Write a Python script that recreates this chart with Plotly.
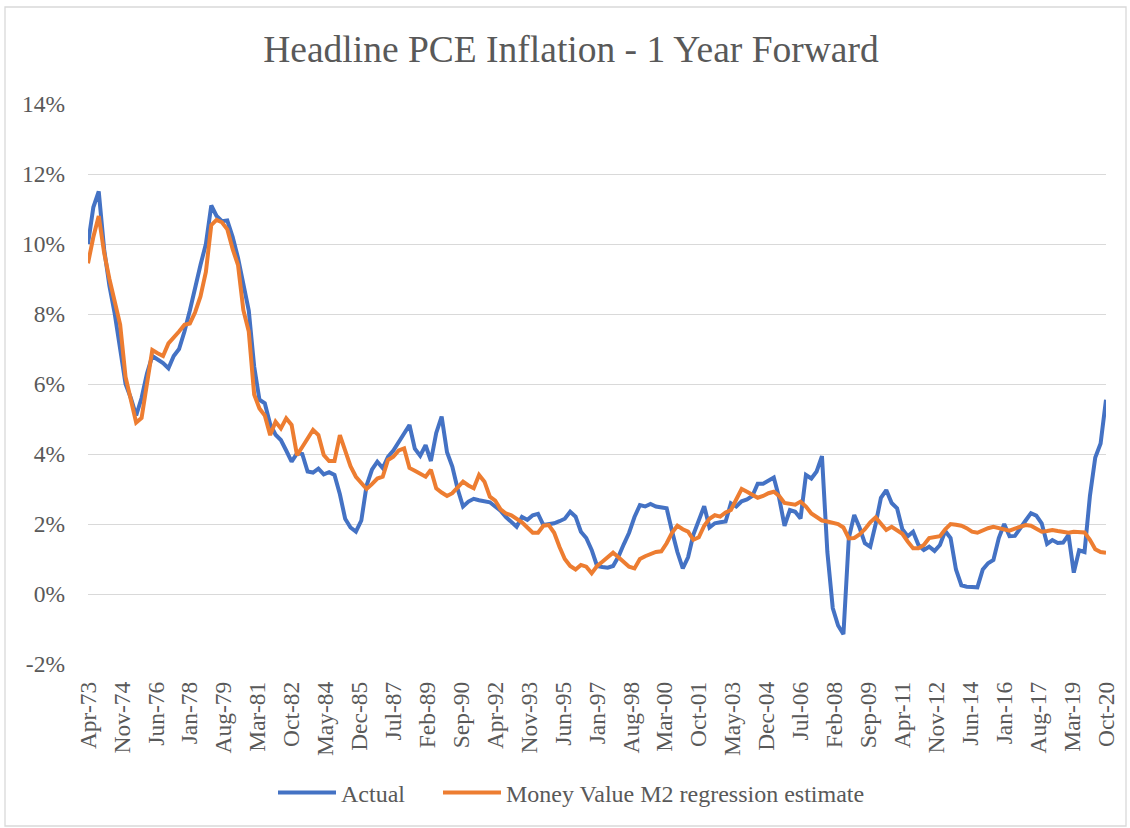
import pandas as pd
import plotly.graph_objects as go
from datetime import datetime

# Quarterly observation dates, Apr-1973 ... Oct-2020
quarters = pd.date_range("1973-04-01", "2020-10-01", freq="3MS")

# Headline PCE inflation 1 year forward (%)
actual = [
    10.0, 11.05, 11.5, 9.85, 8.8, 8.0, 7.0, 6.0, 5.6, 5.1,
    5.6, 6.3, 6.8, 6.7, 6.6, 6.45, 6.8, 7.0, 7.5, 8.1,
    8.8, 9.4, 10.0, 11.1, 10.8, 10.65, 10.67, 10.2, 9.6, 8.9,
    8.1, 6.5, 5.55, 5.45, 4.85, 4.55, 4.4, 4.1, 3.78, 4.02,
    4.0, 3.5, 3.47, 3.58, 3.42, 3.48, 3.4, 2.85, 2.15, 1.9,
    1.78, 2.1, 3.1, 3.55, 3.78, 3.6, 3.92, 4.1, 4.35, 4.62,
    4.83, 4.15, 3.95, 4.25, 3.8, 4.6, 5.07, 4.05, 3.64, 3.0,
    2.5, 2.64, 2.72, 2.68, 2.66, 2.62, 2.5, 2.38, 2.2, 2.05,
    1.92, 2.2, 2.12, 2.25, 2.29, 1.97, 2.0, 2.02, 2.08, 2.15,
    2.35, 2.21, 1.78, 1.6, 1.26, 0.8, 0.77, 0.75, 0.8, 1.07,
    1.42, 1.75, 2.2, 2.54, 2.5, 2.57, 2.5, 2.47, 2.45, 1.8,
    1.2, 0.73, 1.05, 1.7, 2.1, 2.51, 1.9, 2.02, 2.05, 2.07,
    2.59, 2.5, 2.65, 2.7, 2.8, 3.15, 3.15, 3.25, 3.33, 2.75,
    1.95, 2.4, 2.35, 2.16, 3.4, 3.3, 3.5, 3.94, 1.2, -0.4,
    -0.9, -1.15, 1.6, 2.26, 1.9, 1.45, 1.35, 2.0, 2.75, 2.97,
    2.6, 2.45, 1.85, 1.65, 1.78, 1.4, 1.26, 1.35, 1.23, 1.4,
    1.8, 1.6, 0.7, 0.25, 0.21, 0.2, 0.19, 0.7, 0.88, 0.97,
    1.6, 2.0, 1.65, 1.66, 1.9, 2.1, 2.31, 2.24, 2.02, 1.43,
    1.54, 1.46, 1.47, 1.69, 0.61, 1.25, 1.2, 2.8, 3.9, 4.3,
    5.55,
]

# Money Value M2 regression estimate (%)
estimate = [
    9.45, 10.2, 10.8, 9.75, 9.0, 8.3, 7.7, 6.2, 5.6, 4.9,
    5.03, 6.0, 6.97, 6.88, 6.8, 7.16, 7.35, 7.5, 7.69, 7.73,
    8.05, 8.5, 9.2, 10.54, 10.69, 10.62, 10.42, 9.85, 9.4, 8.11,
    7.5, 5.7, 5.3, 5.1, 4.54, 4.92, 4.73, 5.02, 4.83, 3.97,
    4.2, 4.45, 4.69, 4.54, 3.97, 3.8, 3.8, 4.54, 4.05, 3.65,
    3.35, 3.15, 3.0, 3.14, 3.3, 3.35, 3.83, 3.92, 4.1, 4.16,
    3.6, 3.52, 3.45, 3.35, 3.55, 3.02, 2.9, 2.8, 2.88, 3.05,
    3.21, 3.1, 3.02, 3.4, 3.21, 2.78, 2.67, 2.42, 2.3, 2.25,
    2.15, 2.05, 1.9, 1.75, 1.75, 1.95, 1.97, 1.75, 1.35, 1.0,
    0.8, 0.7, 0.83, 0.78, 0.59, 0.8, 0.92, 1.05, 1.18, 1.05,
    0.9, 0.78, 0.73, 1.0, 1.08, 1.14, 1.2, 1.22, 1.45, 1.75,
    1.95, 1.85, 1.78, 1.55, 1.62, 1.95, 2.15, 2.25, 2.21, 2.33,
    2.4, 2.7, 3.0, 2.92, 2.82, 2.75, 2.8, 2.88, 2.92, 2.8,
    2.6, 2.56, 2.55, 2.64, 2.5, 2.3, 2.2, 2.1, 2.07, 2.03,
    2.0, 1.9, 1.59, 1.6, 1.7, 1.85, 2.05, 2.19, 2.02, 1.83,
    1.92, 1.82, 1.72, 1.5, 1.31, 1.31, 1.4, 1.6, 1.62, 1.65,
    1.85, 2.0, 1.98, 1.95, 1.88, 1.78, 1.75, 1.82, 1.88, 1.92,
    1.88, 1.83, 1.81, 1.87, 1.92, 1.97, 1.95, 1.85, 1.78, 1.8,
    1.83, 1.8, 1.77, 1.75, 1.78, 1.78, 1.76, 1.55, 1.28, 1.2,
    1.18,
]

tick_labels = [
    "Apr-73", "Nov-74", "Jun-76", "Jan-78", "Aug-79", "Mar-81", "Oct-82",
    "May-84", "Dec-85", "Jul-87", "Feb-89", "Sep-90", "Apr-92", "Nov-93",
    "Jun-95", "Jan-97", "Aug-98", "Mar-00", "Oct-01", "May-03", "Dec-04",
    "Jul-06", "Feb-08", "Sep-09", "Apr-11", "Nov-12", "Jun-14", "Jan-16",
    "Aug-17", "Mar-19", "Oct-20",
]
tick_dates = [datetime.strptime(t, "%b-%y") for t in tick_labels]

y_ticks = [-2, 0, 2, 4, 6, 8, 10, 12, 14]

FONT = "Liberation Serif, Times New Roman, serif"
GREY = "#595959"

fig = go.Figure()
fig.add_trace(go.Scatter(
    x=quarters, y=actual, mode="lines", name="Actual",
    line=dict(color="#4472C4", width=4), legend="legend",
))
fig.add_trace(go.Scatter(
    x=quarters, y=estimate, mode="lines", name="Money Value M2 regression estimate",
    line=dict(color="#ED7D31", width=4), legend="legend2",
))

L, R, T, B = 88, 24, 104, 164
W, H = 1130, 828
pw, ph = W - L - R, H - T - B

# outer chart border
fig.add_shape(
    type="rect", xref="paper", yref="paper",
    x0=(5 - L) / pw, x1=(1126 - L) / pw,
    y0=(H - B - 826) / ph, y1=(H - B - 7) / ph,
    line=dict(color="#d9d9d9", width=1.3), fillcolor="rgba(0,0,0,0)",
    layer="below",
)

legend_style = dict(
    orientation="h", xref="container", yref="container",
    xanchor="left", y=1 - 793 / H, yanchor="middle",
    font=dict(family=FONT, size=24, color=GREY),
    itemwidth=58, bgcolor="rgba(0,0,0,0)",
)

fig.update_layout(
    width=W, height=H,
    margin=dict(l=L, r=R, t=T, b=B),
    paper_bgcolor="white", plot_bgcolor="white",
    font=dict(family=FONT, color=GREY, size=23),
    title=dict(
        text="Headline PCE Inflation - 1 Year Forward",
        x=571 / W, xanchor="center", xref="container",
        y=1 - 49 / H, yanchor="middle", yref="container",
        font=dict(family=FONT, size=37.5, color=GREY),
    ),
    showlegend=True,
    legend=dict(x=273 / W, **legend_style),
    legend2=dict(x=438 / W, **legend_style),
    hovermode=False,
)

fig.update_xaxes(
    type="date",
    range=[quarters[0], quarters[-1]],
    tickmode="array", tickvals=tick_dates, ticktext=tick_labels,
    tickangle=-90, showgrid=False, showline=False, zeroline=False,
    ticks="", ticklabelstandoff=12,
    tickfont=dict(family=FONT, size=23.5, color=GREY),
)
fig.update_yaxes(
    range=[-2, 14], tickmode="array", tickvals=y_ticks,
    ticktext=[f"{v}%" for v in y_ticks],
    showgrid=True, gridcolor="#d9d9d9", gridwidth=1.3,
    zeroline=False, showline=False, ticks="", ticklabelstandoff=22,
    tickfont=dict(family=FONT, size=23.5, color=GREY),
)

fig.write_html("out.html", config={"displayModeBar": False},
               post_script="document.body.style.margin='0';")
